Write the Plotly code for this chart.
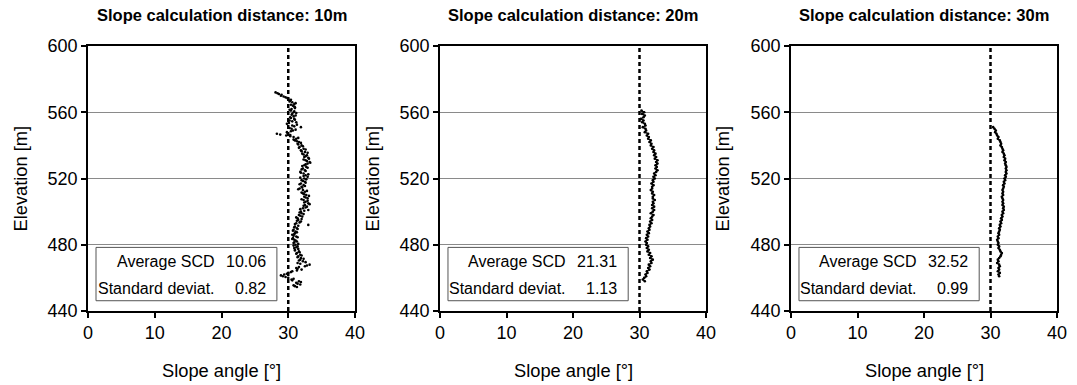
import plotly.graph_objects as go

# ---------------- data ----------------
titles = ["Slope calculation distance: 10m", "Slope calculation distance: 20m", "Slope calculation distance: 30m"]
avg_scd = ["10.06", "21.31", "32.52"]
std_dev = ["0.82", "1.13", "0.99"]
ref_angle = 30
x_ticks = [0, 10, 20, 30, 40]
y_ticks = [440, 480, 520, 560, 600]

elev_10 = [572, 571, 570, 569, 568, 567, 566, 565, 564, 563, 562, 561, 560, 559, 558, 557, 556, 555, 554, 553,
           552, 551, 550, 549, 548, 547, 546, 545, 544, 543, 542, 541, 540, 539, 538, 537, 536, 535, 534, 533,
           532, 531, 530, 529, 528, 527, 526, 525, 524, 523, 522, 521, 520, 519, 518, 517, 516, 515, 514, 513,
           512, 511, 510, 509, 508, 507, 506, 505, 504, 503, 502, 501, 500, 499, 498, 497, 496, 495, 494, 493,
           492, 491, 490, 489, 488, 487, 486, 485, 484, 483, 482, 481, 480, 479, 478, 477, 476, 475, 474, 473,
           472, 471, 470, 469, 468, 467, 466, 465, 464, 463, 462, 461, 460, 459, 458, 457, 456, 455, 546.5, 546.2]
slope_10 = [28.1, 28.6, 28.9, 29.6, 30.0, 30.3, 30.6, 30.9, 30.7, 31.0, 30.5, 30.4, 30.8, 30.6, 31.1, 30.3, 30.9, 30.2, 31.2, 29.8,
            30.6, 31.9, 30.5, 30.7, 29.8, 28.3, 29.7, 30.8, 31.2, 31.0, 31.6, 31.4, 32.0, 31.7, 32.3, 31.9, 32.5, 32.1, 32.8, 32.4,
            33.1, 32.6, 33.2, 32.9, 32.4, 32.7, 32.2, 32.5, 31.8, 32.3, 32.6, 32.9, 32.4, 32.0, 32.5, 31.9, 32.3, 32.0, 31.7, 32.2,
            32.5, 32.2, 32.7, 32.4, 32.9, 32.3, 32.6, 33.0, 32.5, 32.8, 32.2, 33.0, 31.9, 32.0, 31.6, 32.1, 31.4, 31.5, 31.9, 31.2,
            33.0, 31.0, 31.3, 30.8, 31.1, 31.0, 30.6, 31.2, 30.7, 30.9, 31.3, 30.8, 31.1, 31.4, 30.9, 31.0, 31.6, 31.3, 31.8, 31.5,
            31.9, 31.8, 32.2, 31.4, 33.2, 32.5, 31.2, 32.0, 30.6, 30.0, 29.4, 29.2, 30.0, 30.5, 31.6, 31.2, 31.8, 31.0, 28.8, 30.3]

# additional (elevation, slope) readings of the 10 m profile between the whole-metre samples
extra_10 = [(571.5, 28.4), (570.5, 29.0), (569.5, 29.3), (568.5, 29.9), (567.5, 30.4), (566.5, 30.2), (565.5, 31.1),
            (564.5, 30.4), (563.5, 30.9), (562.5, 31.0), (561.5, 30.2), (560.5, 30.9), (559.5, 31.2), (558.5, 30.5),
            (557.5, 30.8), (556.5, 30.4), (555.5, 31.0), (554.5, 30.6), (553.5, 30.1), (552.5, 31.3), (551.5, 30.9),
            (550.5, 30.2), (549.5, 31.1), (548.5, 30.4), (547.5, 29.9), (545.5, 30.3), (544.5, 31.5), (543.5, 30.8),
            (542.5, 31.3), (541.5, 31.9), (540.5, 31.5), (539.5, 32.2), (538.5, 31.6), (537.5, 32.6), (536.5, 32.0),
            (535.5, 32.9), (534.5, 32.3), (533.5, 32.6), (532.5, 33.0), (531.5, 32.3), (530.5, 32.8), (529.5, 33.3),
            (528.5, 32.6), (527.5, 32.1), (526.5, 32.9), (525.5, 32.0), (524.5, 32.6), (523.5, 31.9), (522.5, 33.0),
            (521.5, 32.3), (520.5, 31.8), (519.5, 32.7), (518.5, 32.2), (517.5, 32.6), (516.5, 31.7), (515.5, 32.5),
            (514.5, 32.1), (513.5, 31.5), (512.5, 32.8), (511.5, 32.0), (510.5, 32.4), (509.5, 33.1), (508.5, 32.6),
            (507.5, 32.0), (506.5, 32.9), (505.5, 32.4), (504.5, 33.2), (503.5, 32.3), (502.5, 32.6), (501.5, 31.8),
            (500.5, 32.4), (499.5, 31.7), (498.5, 32.3), (497.5, 31.8), (496.5, 31.2), (495.5, 32.0), (494.5, 31.3),
            (493.5, 31.7), (492.5, 31.0), (491.5, 31.5), (490.5, 30.9), (489.5, 31.4), (488.5, 30.7), (487.5, 31.3),
            (486.5, 30.9), (485.5, 30.8), (484.5, 31.4), (483.5, 30.6), (482.5, 31.1), (481.5, 30.9), (480.5, 31.5),
            (479.5, 30.8), (478.5, 31.2), (477.5, 31.5), (476.5, 31.0), (475.5, 31.7), (474.5, 31.2), (473.5, 32.0),
            (472.5, 31.4), (471.5, 32.3), (470.5, 31.6), (469.5, 32.6), (468.5, 31.8), (467.5, 32.8), (466.5, 31.6),
            (465.5, 31.4), (464.5, 31.3), (463.5, 30.4), (462.5, 29.8), (461.5, 28.9), (460.5, 29.6), (459.5, 30.8),
            (458.5, 30.6), (457.5, 31.9), (456.5, 31.4), (455.5, 30.8), (454.5, 31.3)]

elev_20 = [561, 560, 559, 558, 557, 556, 555, 554, 553, 552, 551, 550, 549, 548, 547, 546, 545, 544, 543, 542,
           541, 540, 539, 538, 537, 536, 535, 534, 533, 532, 531, 530, 529, 528, 527, 526, 525, 524, 523, 522,
           521, 520, 519, 518, 517, 516, 515, 514, 513, 512, 511, 510, 509, 508, 507, 506, 505, 504, 503, 502,
           501, 500, 499, 498, 497, 496, 495, 494, 493, 492, 491, 490, 489, 488, 487, 486, 485, 484, 483, 482,
           481, 480, 479, 478, 477, 476, 475, 474, 473, 472, 471, 470, 469, 468, 467, 466, 465, 464, 463, 462,
           461, 460, 459, 458]
slope_20 = [30.3, 30.7, 30.4, 30.8, 30.6, 30.2, 30.6, 30.4, 30.8, 30.9, 30.5, 30.9, 31.0, 30.8, 31.3, 31.1, 31.4, 31.3, 31.7, 31.5,
            31.8, 31.7, 32.1, 31.9, 32.2, 32.1, 32.4, 32.2, 32.5, 32.3, 32.7, 32.5, 32.7, 32.4, 32.6, 32.4, 32.7, 32.5, 32.2, 32.4,
            32.1, 32.3, 32.0, 32.1, 31.8, 32.1, 31.9, 31.9, 31.7, 32.0, 31.9, 32.2, 32.0, 32.0, 32.3, 32.0, 32.1, 31.9, 32.2, 31.9,
            32.2, 32.0, 31.7, 32.1, 31.9, 31.7, 31.9, 31.6, 31.8, 31.5, 31.6, 31.4, 31.5, 31.2, 31.4, 31.1, 31.3, 31.0, 31.2, 30.9,
            31.1, 31.0, 31.3, 31.1, 31.4, 31.2, 31.6, 31.4, 31.8, 31.6, 32.0, 31.7, 31.8, 31.4, 31.6, 31.3, 31.5, 31.1, 31.2, 30.9,
            31.0, 30.7, 30.5, 30.8]

elev_30 = [551, 550, 549, 548, 547, 546, 545, 544, 543, 542, 541, 540, 539, 538, 537, 536, 535, 534, 533, 532,
           531, 530, 529, 528, 527, 526, 525, 524, 523, 522, 521, 520, 519, 518, 517, 516, 515, 514, 513, 512,
           511, 510, 509, 508, 507, 506, 505, 504, 503, 502, 501, 500, 499, 498, 497, 496, 495, 494, 493, 492,
           491, 490, 489, 488, 487, 486, 485, 484, 483, 482, 481, 480, 479, 478, 477, 476, 475, 474, 473, 472,
           471, 470, 469, 468, 467, 466, 465, 464, 463, 462, 461]
slope_30 = [30.4, 30.6, 30.8, 30.7, 30.9, 31.0, 31.2, 31.1, 31.4, 31.5, 31.6, 31.5, 31.7, 31.8, 31.9, 31.8, 32.0, 32.1, 32.0, 32.2,
            32.1, 32.3, 32.2, 32.3, 32.4, 32.3, 32.4, 32.3, 32.4, 32.2, 32.3, 32.1, 32.2, 32.0, 32.1, 31.9, 32.0, 31.9, 31.8, 31.9,
            31.8, 31.9, 31.7, 31.8, 31.9, 31.8, 31.9, 31.8, 32.0, 31.9, 32.0, 31.8, 31.9, 31.7, 31.8, 31.6, 31.7, 31.5, 31.6, 31.4,
            31.5, 31.3, 31.4, 31.3, 31.2, 31.3, 31.1, 31.2, 31.0, 31.1, 31.2, 31.1, 31.3, 31.2, 31.4, 31.5, 31.7, 31.6, 31.5, 31.3,
            31.1, 31.2, 31.0, 31.3, 31.4, 31.2, 31.3, 31.1, 31.4, 31.2, 31.3]

series = [(slope_10 + [p[1] for p in extra_10], elev_10 + [p[0] for p in extra_10]),
          (slope_20, elev_20), (slope_30, elev_30)]

# ---------------- layout geometry ----------------
W, H = 1077, 385
x_px = [(88, 355), (440, 706), (791, 1057)]
y_px = (46, 311)
ytitle_px = [20, 372, 722]
FONT = "Liberation Sans, Arial, Helvetica, sans-serif"

fig = go.Figure()
layout = dict(
    width=W, height=H, margin=dict(l=0, r=0, t=0, b=0, autoexpand=False),
    paper_bgcolor="white", plot_bgcolor="white",
    showlegend=False, font=dict(family=FONT, color="black"),
)
annotations = []
shapes = []

ydom = [1 - y_px[1] / H, 1 - y_px[0] / H]
for i, (sx, sy) in enumerate(series):
    n = "" if i == 0 else str(i + 1)
    xa, ya = "x" + n, "y" + n
    if i == 0:
        fig.add_trace(go.Scatter(x=sx, y=sy, mode="markers", xaxis=xa, yaxis=ya,
                                 marker=dict(color="black", size=2.6, line=dict(width=0))))
    else:
        fig.add_trace(go.Scatter(x=sx, y=sy, mode="lines+markers", xaxis=xa, yaxis=ya,
                                 line=dict(color="black", width=1.4),
                                 marker=dict(color="black", size=2.6, line=dict(width=0))))
    xdom = [x_px[i][0] / W, x_px[i][1] / W]
    layout["xaxis" + n] = dict(
        domain=xdom, anchor=ya, range=[0, 40], tickvals=x_ticks, showgrid=False, zeroline=False,
        automargin=False,
        showline=True, linecolor="black", linewidth=1.5, mirror=True,
        ticks="outside", ticklen=5, tickwidth=1.5, tickcolor="black",
        tickfont=dict(size=18, family=FONT, color="black"),
    )
    layout["yaxis" + n] = dict(
        domain=ydom, anchor=xa, range=[440, 600], tickvals=y_ticks, showgrid=True,
        automargin=False,
        gridcolor="#8a8a8a", gridwidth=1, zeroline=False,
        showline=True, linecolor="black", linewidth=1.5, mirror=True,
        ticks="outside", ticklen=5, tickwidth=1.5, tickcolor="black",
        tickfont=dict(size=18, family=FONT, color="black"),
    )
    # reference line
    shapes.append(dict(type="line", xref=xa, yref=ya, x0=ref_angle, x1=ref_angle, y0=440, y1=600,
                       line=dict(color="black", width=2.5, dash="4px,3px")))
    # stats box
    shapes.append(dict(type="rect", xref=xa, yref=ya, x0=1.2, x1=28.3, y0=446.2, y1=478.4,
                       line=dict(color="#555555", width=1), fillcolor="white", layer="below"))
    for txt, xv, yv in [("Average SCD", 19.3, 469.6), (avg_scd[i], 26.9, 469.6),
                        ("Standard deviat.", 19.3, 453.3), (std_dev[i], 26.9, 453.3)]:
        annotations.append(dict(text=txt, xref=xa, yref=ya, x=xv, y=yv, xanchor="right", yanchor="middle",
                                showarrow=False, font=dict(size=16, family=FONT, color="black")))
    cx = (x_px[i][0] + x_px[i][1]) / 2 / W
    annotations.append(dict(text="<b>" + titles[i] + "</b>", xref="paper", yref="paper", x=cx, y=1 - 15 / H,
                            xanchor="center", yanchor="middle", showarrow=False,
                            font=dict(size=16.5, family=FONT, color="black")))
    annotations.append(dict(text="Slope angle [°]", xref="paper", yref="paper", x=cx, y=1 - 370 / H,
                            xanchor="center", yanchor="middle", showarrow=False,
                            font=dict(size=18.3, family=FONT, color="black")))
    annotations.append(dict(text="Elevation [m]", xref="paper", yref="paper", x=ytitle_px[i] / W,
                            y=1 - (y_px[0] + y_px[1]) / 2 / H, textangle=-90,
                            xanchor="center", yanchor="middle", showarrow=False,
                            font=dict(size=18.3, family=FONT, color="black")))

layout["annotations"] = annotations
layout["shapes"] = shapes
fig.update_layout(**layout)
fig.write_html("out.html", config={"displayModeBar": False},
               post_script="document.body.style.margin='0';document.body.style.padding='0';"
                           "document.body.style.overflow='hidden';")
